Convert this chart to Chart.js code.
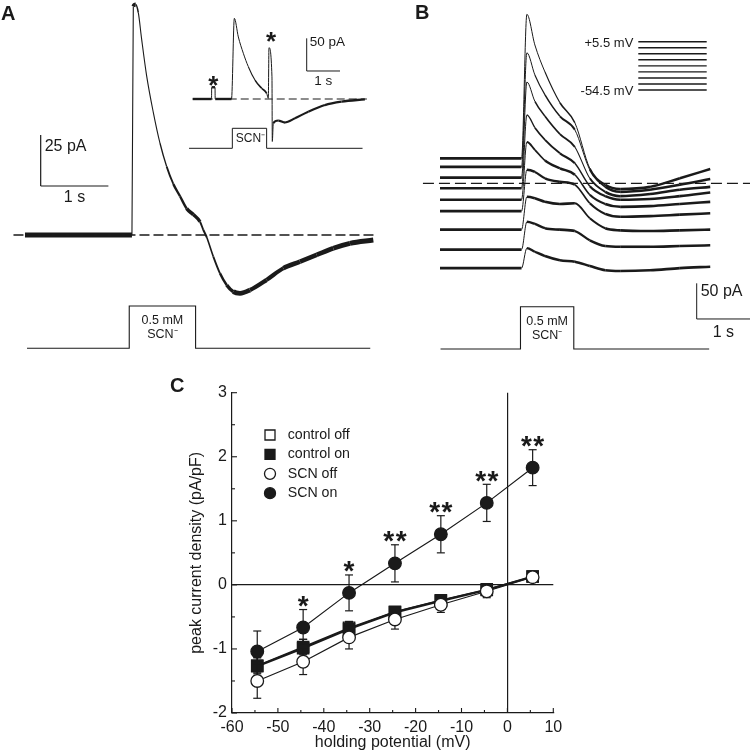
<!DOCTYPE html>
<html>
<head>
<meta charset="utf-8">
<script src="https://cdn.jsdelivr.net/npm/chart.js@4.4.1/dist/chart.umd.min.js"></script>
<style>
html, body { margin: 0; padding: 0; background: #fff; }
#wrap { position: relative; width: 750px; height: 753px; overflow: hidden; }
canvas { position: absolute; }
</style>
</head>
<body>
<div id="wrap">
  <canvas id="panelA" width="375" height="380" style="left:0;top:0;width:375px;height:380px"></canvas>
  <canvas id="panelB" width="375" height="380" style="left:375px;top:0;width:375px;height:380px"></canvas>
  <canvas id="panelC" width="750" height="378" style="left:0;top:375px;width:750px;height:378px"></canvas>
</div>
<script>
// ---------- data ----------
// panel A: single trace (s, pA) and the inset
const timeA = [0, 1.58, 1.60, 1.635, 1.674, 1.723, 1.797, 1.896, 1.994, 2.093, 2.191, 2.29, 2.388, 2.487, 2.585, 2.634, 2.683, 2.782, 2.88, 2.979, 3.077, 3.176, 3.323, 3.569, 3.816, 4.062, 4.308, 4.554, 4.8, 5.145];
const currentA = [0, 0, 112, 113, 109, 96, 78, 60, 45, 33.5, 25, 19, 13, 10, 6.5, 2.5, -1, -10.6, -18.8, -24.5, -27.8, -28.6, -27, -22, -16.3, -13.1, -9.8, -6.5, -4.1, -2.5];
const stimTimesA = [0.03, 1.54, 2.52, 5.1];
const stimLevels = [0, 1, 0, 0];
const zeroSpanA = [-0.17, 5.2];

const timeInset = [0, 0.565, 0.57, 0.67, 0.675, 1.165, 1.25, 1.37, 1.52, 1.67, 1.87, 2.07, 2.22, 2.27, 2.29, 2.38, 2.39, 2.42, 2.57, 2.77, 3.07, 3.47, 3.97, 4.47, 5.17];
const currentInset = [0, 0, 18, 18, 0, 0, 123.5, 95, 70, 49.5, 29, 16.4, 8.7, 1.1, 78.5, 34, -65, -37, -33, -36, -29.5, -19.4, -9.2, -4.1, -0.5];
const stimTimesInset = [-0.11, 1.19, 2.22, 5.1];
const zeroSpanInset = [0, 5.23];

// panel B: one trace per holding potential
const voltagesB = [5.5, -2, -9.5, -17, -24.5, -32, -39.5, -47, -54.5];
const timeB = [0, 1.53, 1.63, 1.78, 1.97, 2.25, 2.53, 2.81, 3.10, 3.38, 3.94, 4.50, 5.07];
const trace_p5_5 = [35, 35, 237, 194, 156, 113, 85, 21, -2, -8, -5, 7, 20];
const trace_m2_0 = [23, 23, 183, 152, 124, 94, 75, 19, -5, -12, -9, -2, 6];
const trace_m9_5 = [8, 8, 142, 115, 94, 69, 51, 7, -12, -18, -15, -9, -5];
const trace_m17 = [-7, -7, 96, 78, 61, 42, 28, -4, -18, -23, -22, -18, -13];
const trace_m24_5 = [-23, -23, 58, 47, 32, 21, 12, -16, -29, -33, -32, -29, -26];
const trace_m32 = [-39, -39, 19, 16, 7, 2, -2, -28, -43, -47, -46, -44, -42];
const trace_m39_5 = [-65, -65, -19, -21, -26, -29, -28, -49, -63, -66, -67, -66, -65];
const trace_m47 = [-93, -93, -54, -57, -63, -65, -67, -80, -88, -89, -89, -88, -87];
const trace_m54_5 = [-119, -119, -91, -96, -102, -108, -110, -116, -122, -123, -122, -119, -117];
const tracesB = [trace_p5_5, trace_m2_0, trace_m9_5, trace_m17, trace_m24_5, trace_m32, trace_m39_5, trace_m47, trace_m54_5];
const stimTimesB = [0.01, 1.51, 2.51, 5.05];
const zeroSpanB = [-0.32, 5.9];

// panel C: I-V relation
const potentials = [-54.5, -44.5, -34.5, -24.5, -14.5, -4.5, 5.5];
const controlOff = [-1.26, -0.97, -0.67, -0.42, -0.24, -0.07, 0.13];
const controlOffErr = [0.12, 0.12, 0.1, 0.08, 0.06, 0.05, 0.05];
const controlOn = [-1.27, -0.99, -0.69, -0.43, -0.25, -0.08, 0.13];
const controlOnErr = [0.14, 0.14, 0.1, 0.08, 0.07, 0.05, 0.06];
const scnOff = [-1.5, -1.2, -0.82, -0.54, -0.31, -0.1, 0.12];
const scnOffErr = [0.27, 0.2, 0.18, 0.15, 0.12, 0.1, 0.08];
const scnOn = [-1.04, -0.665, -0.125, 0.336, 0.79, 1.28, 1.83];
const scnOnErr = [0.32, 0.28, 0.28, 0.29, 0.29, 0.29, 0.28];
const significance = ['', '*', '*', '**', '**', '**', '**'];
const xTicks = [-60, -50, -40, -30, -20, -10, 0, 10];
const yTicks = [-2, -1, 0, 1, 2, 3];

// ---------- helpers ----------
const INK = '#1a1a1a';
const FONT = 'Arial, "Liberation Sans", Helvetica, sans-serif';
Chart.defaults.font.family = FONT;
Chart.defaults.color = INK;

function pts(xs, ys) { return xs.map((x, i) => ({ x: x, y: ys[i] })); }
function hidden(min, max) { return { type: 'linear', display: false, min: min, max: max }; }
// noisy recordings look thick where flat and thin where steep
function noisyWidth(thick, thin) {
  return {
    borderWidth: c => {
      const dx = c.p1.x - c.p0.x, dy = c.p1.y - c.p0.y;
      const len = Math.sqrt(dx * dx + dy * dy) || 1;
      return Math.max(thin, thick * Math.abs(dx) / len);
    }
  };
}
function trace(data, xId, yId, w, extra) {
  return Object.assign({ data: data, xAxisID: xId, yAxisID: yId, borderColor: INK, borderWidth: w,
    pointRadius: 0, fill: false, cubicInterpolationMode: 'monotone' }, extra || {});
}
function seg(ctx, x1, y1, x2, y2, w) {
  ctx.beginPath(); ctx.lineWidth = w || 1.2; ctx.strokeStyle = INK;
  ctx.moveTo(x1, y1); ctx.lineTo(x2, y2); ctx.stroke();
}
function label(ctx, str, x, y, size, align, weight) {
  ctx.font = (weight || '') + ' ' + size + 'px ' + FONT;
  ctx.fillStyle = INK; ctx.textAlign = align || 'center'; ctx.textBaseline = 'middle';
  ctx.fillText(str, x, y);
}
function stars(ctx, n, x, cy, size) {
  ctx.font = 'bold ' + size + 'px ' + FONT;
  ctx.fillStyle = INK; ctx.textAlign = 'center'; ctx.textBaseline = 'alphabetic';
  for (let k = 0; k < n; k++) ctx.fillText('*', x + (k - (n - 1) / 2) * 12.3, cy + size * 0.55);
}
function panelLetter(ctx, str, x, y) {
  ctx.font = 'bold 20px ' + FONT; ctx.fillStyle = INK;
  ctx.textAlign = 'left'; ctx.textBaseline = 'alphabetic'; ctx.fillText(str, x, y);
}
const dashed = pattern => ({ borderDash: pattern, cubicInterpolationMode: 'default' });
const baseOptions = {
  responsive: false, animation: false,
  layout: { padding: 0 },
  plugins: { legend: { display: false }, tooltip: { enabled: false } }
};

// ---------- panel A ----------
const panelAPlugin = {
  id: 'panelA',
  afterDraw(c) {
    const ctx = c.ctx, x = c.scales.x, y = c.scales.y, xi = c.scales.xIn, yi = c.scales.yIn;
    ctx.save();
    // 25 pA / 1 s bar
    const bx = x.getPixelForValue(0.232), by = y.getPixelForValue(24), bTop = y.getPixelForValue(49);
    const bRight = x.getPixelForValue(1.232);
    seg(ctx, bx, bTop, bx, by); seg(ctx, bx, by, bRight, by);
    label(ctx, '25 pA', bx + 4, bTop + 12, 16, 'left');
    label(ctx, '1 s', (bx + bRight) / 2, by + 12, 16);
    // stimulus text
    const sx = (x.getPixelForValue(stimTimesA[1]) + x.getPixelForValue(stimTimesA[2])) / 2;
    const sTop = c.scales.yStim.getPixelForValue(1);
    label(ctx, '0.5 mM', sx, sTop + 15, 12.5);
    label(ctx, 'SCN\u207B', sx, sTop + 29, 12.5);
    // inset bar 50 pA / 1 s
    const ix = xi.getPixelForValue(3.423), iy = yi.getPixelForValue(42.9), iTop = yi.getPixelForValue(92.9);
    const iRight = xi.getPixelForValue(4.423);
    seg(ctx, ix, iTop, ix, iy, 1); seg(ctx, ix, iy, iRight, iy, 1);
    label(ctx, '50 pA', ix + 3, iTop + 4, 13.5, 'left');
    label(ctx, '1 s', (ix + iRight) / 2, iy + 10, 13.5);
    const isx = (xi.getPixelForValue(stimTimesInset[1]) + xi.getPixelForValue(stimTimesInset[2])) / 2;
    const isy = (c.scales.yInStim.getPixelForValue(0) + c.scales.yInStim.getPixelForValue(1)) / 2;
    label(ctx, 'SCN\u207B', isx + 1, isy, 12);
    // asterisks on inset artefacts
    stars(ctx, 1, xi.getPixelForValue((timeInset[2] + timeInset[3]) / 2), yi.getPixelForValue(currentInset[2]) - 8, 26);
    stars(ctx, 1, xi.getPixelForValue(timeInset[14]) + 2, yi.getPixelForValue(currentInset[14]) - 12, 26);
    panelLetter(ctx, 'A', 1, 20);
    ctx.restore();
  }
};

new Chart(document.getElementById('panelA'), {
  type: 'line',
  data: {
    datasets: [
      trace(pts(zeroSpanA, [0, 0]), 'x', 'y', 1.3, dashed([10, 4])),
      trace(pts(timeA, currentA), 'x', 'y', 5, { segment: noisyWidth(5, 1.1) }),
      trace(pts(stimTimesA, stimLevels), 'x', 'yStim', 1.1, { stepped: 'before' }),
      trace(pts(zeroSpanInset, [0, 0]), 'xIn', 'yIn', 1.2, dashed([8, 4])),
      trace(pts(timeInset, currentInset), 'xIn', 'yIn', 2.4, { segment: noisyWidth(2.4, 1) }),
      trace(pts(stimTimesInset, stimLevels), 'xIn', 'yInStim', 1, { stepped: 'before' })
    ]
  },
  options: Object.assign({}, baseOptions, {
    scales: {
      x: hidden(-0.369, 5.17),
      y: hidden(-71.1, 115.2),
      yStim: hidden(-0.749, 8.234),
      xIn: hidden(-5.787, 5.474),
      yIn: hidden(-430.3, 151.6),
      yInStim: hidden(-11.585, 7.415)
    }
  }),
  plugins: [panelAPlugin]
});

// ---------- panel B ----------
const panelBPlugin = {
  id: 'panelB',
  afterDraw(c) {
    const ctx = c.ctx, x = c.scales.x, y = c.scales.y;
    ctx.save();
    // holding potential steps
    voltagesB.forEach((v, i) => seg(ctx, 263.3, 41.7 + i * 6.04, 331.7, 41.7 + i * 6.04, 1.4));
    label(ctx, '+5.5 mV', 258.3, 43.3, 13, 'right');
    label(ctx, '-54.5 mV', 258.3, 91.7, 13, 'right');
    // 50 pA / 1 s bar
    const bx = x.getPixelForValue(4.816), by = y.getPixelForValue(-190.3), bTop = y.getPixelForValue(-140.3);
    const bRight = x.getPixelForValue(5.816);
    seg(ctx, bx, bTop, bx, by, 1); seg(ctx, bx, by, bRight, by, 1);
    label(ctx, '50 pA', bx + 4, bTop + 8, 16, 'left');
    label(ctx, '1 s', (bx + bRight) / 2, by + 13.5, 16);
    const sx = (x.getPixelForValue(stimTimesB[1]) + x.getPixelForValue(stimTimesB[2])) / 2;
    const sTop = c.scales.yStim.getPixelForValue(1);
    label(ctx, '0.5 mM', sx, sTop + 14.5, 12.5);
    label(ctx, 'SCN\u207B', sx, sTop + 29, 12.5);
    panelLetter(ctx, 'B', 40, 19);
    ctx.restore();
  }
};

new Chart(document.getElementById('panelB'), {
  type: 'line',
  data: {
    datasets: [trace(pts(zeroSpanB, [0, 0]), 'x', 'y', 1.3, dashed([11, 5]))]
      .concat(tracesB.map(tr => trace(pts(timeB, tr), 'x', 'y', 2.6, { segment: noisyWidth(2.6, 1) })))
      .concat([trace(pts(stimTimesB, stimLevels), 'x', 'yStim', 1.1, { stepped: 'before' })])
  },
  options: Object.assign({}, baseOptions, {
    scales: {
      x: hidden(-1.2195, 5.816),
      y: hidden(-275.9, 257.1),
      yStim: hidden(-0.732, 8.251)
    }
  }),
  plugins: [panelBPlugin]
});

// ---------- panel C ----------
const seriesC = [
  { label: 'control off', values: controlOff, errors: controlOffErr, style: 'rect', filled: false, width: 1.4, order: 4 },
  { label: 'control on', values: controlOn, errors: controlOnErr, style: 'rect', filled: true, width: 2.2, order: 3 },
  { label: 'SCN off', values: scnOff, errors: scnOffErr, style: 'circle', filled: false, width: 1.2, order: 2 },
  { label: 'SCN on', values: scnOn, errors: scnOnErr, style: 'circle', filled: true, width: 1.2, order: 1 }
];

function drawMarker(ctx, style, filled, x, y, r) {
  ctx.beginPath();
  if (style === 'rect') ctx.rect(x - r, y - r, 2 * r, 2 * r); else ctx.arc(x, y, r, 0, Math.PI * 2);
  ctx.fillStyle = filled ? INK : '#fff'; ctx.fill();
  ctx.lineWidth = 1.3; ctx.strokeStyle = INK; ctx.stroke();
}

const errorBarPlugin = {
  id: 'errorBars',
  beforeDatasetDraw(c, args) {
    const ds = c.data.datasets[args.index];
    if (!ds.errors) return;
    const ctx = c.ctx, ys = c.scales.y;
    ctx.save();
    args.meta.data.forEach((pt, i) => {
      const v = ds.data[i].y, e = ds.errors[i];
      const top = ys.getPixelForValue(v + e), bot = ys.getPixelForValue(v - e);
      seg(ctx, pt.x, top, pt.x, bot, 1.2);
      seg(ctx, pt.x - 4, top, pt.x + 4, top, 1.2);
      seg(ctx, pt.x - 4, bot, pt.x + 4, bot, 1.2);
    });
    ctx.restore();
  }
};

const panelCPlugin = {
  id: 'panelC',
  afterDraw(c) {
    const ctx = c.ctx, a = c.chartArea, xs = c.scales.x, ys = c.scales.y;
    ctx.save();
    // inward major and minor ticks
    for (let v = -60; v <= 10; v += 5) {
      const px = xs.getPixelForValue(v);
      seg(ctx, px, a.bottom, px, a.bottom - (v % 10 === 0 ? 5 : 3), 1.1);
    }
    for (let v = -2; v <= 3; v += 0.5) {
      const py = ys.getPixelForValue(v);
      seg(ctx, a.left, py, a.left + (Number.isInteger(v) ? 5 : 3), py, 1.1);
    }
    // legend
    seriesC.forEach((s, i) => {
      const ly = a.top + 42.3 + i * 19.4;
      drawMarker(ctx, s.style, s.filled, a.left + 38, ly, s.style === 'rect' ? 5 : 5.5);
      label(ctx, s.label, a.left + 55.7, ly, 14.2, 'left');
    });
    // significance marks above SCN on
    potentials.forEach((p, i) => {
      const n = significance[i].length;
      if (!n) return;
      const cap = ys.getPixelForValue(scnOn[i] + scnOnErr[i]);
      stars(ctx, n, xs.getPixelForValue(p), cap - 10, 28);
    });
    panelLetter(ctx, 'C', 170, 17);
    ctx.restore();
  }
};

new Chart(document.getElementById('panelC'), {
  type: 'line',
  data: {
    datasets: seriesC.map(s => ({
      label: s.label,
      data: pts(potentials, s.values),
      errors: s.errors,
      order: s.order,
      borderColor: INK,
      borderWidth: s.width,
      pointStyle: s.style,
      pointRadius: s.style === 'rect' ? 8 : 6.3,
      pointBorderWidth: 1.3,
      pointBorderColor: INK,
      pointBackgroundColor: s.filled ? INK : '#fff',
      fill: false,
      tension: 0
    }))
  },
  options: {
    responsive: false, animation: false,
    layout: { padding: { left: 186, right: 196.7, top: 17.7, bottom: 1 } },
    plugins: { legend: { display: false }, tooltip: { enabled: false } },
    scales: {
      x: {
        type: 'linear', min: -60, max: 10,
        afterBuildTicks: s => { s.ticks = xTicks.map(v => ({ value: v })); },
        afterFit: s => { s.height = 39; },
        ticks: { font: { size: 16 }, color: INK, padding: 5, callback: v => String(v) },
        grid: { drawTicks: false, lineWidth: 1.2, color: g => g.tick && g.tick.value === 0 ? INK : 'rgba(0,0,0,0)' },
        border: { display: true, color: INK, width: 1.2 },
        title: { display: true, text: 'holding potential (mV)', font: { size: 16 }, color: INK, padding: { top: 0, bottom: 0 } }
      },
      y: {
        type: 'linear', min: -2, max: 3,
        afterBuildTicks: s => { s.ticks = yTicks.map(v => ({ value: v })); },
        afterFit: s => { s.width = 46; },
        ticks: { font: { size: 16 }, color: INK, padding: 5, callback: v => String(v) },
        grid: { drawTicks: false, lineWidth: 1.2, color: g => g.tick && g.tick.value === 0 ? INK : 'rgba(0,0,0,0)' },
        border: { display: true, color: INK, width: 1.2 },
        title: { display: true, text: 'peak current density (pA/pF)', font: { size: 16 }, color: INK, padding: { top: 1, bottom: 0 } }
      }
    }
  },
  plugins: [errorBarPlugin, panelCPlugin]
});
</script>
</body>
</html>
